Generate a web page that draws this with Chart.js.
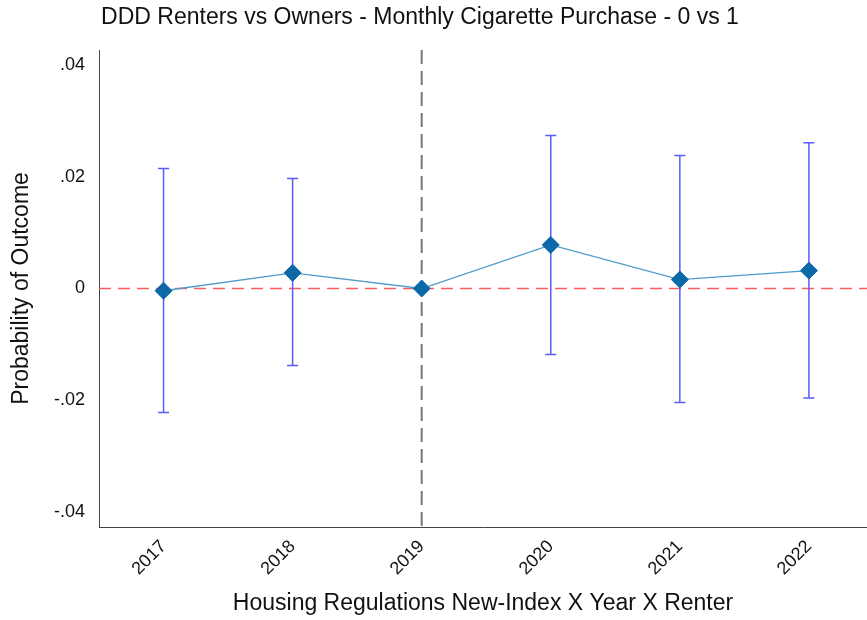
<!DOCTYPE html>
<html>
<head>
<meta charset="utf-8">
<script src="https://cdn.jsdelivr.net/npm/chart.js@4"></script>
<style>
  html, body { margin: 0; padding: 0; background: #fff; }
  #wrap { width: 867px; height: 620px; }
</style>
</head>
<body>
<div id="wrap"><canvas id="chart"></canvas></div>
<script>
const years = [2017, 2018, 2019, 2020, 2021, 2022];
const estimates = [-0.0004, 0.0028, 0.0, 0.0078, 0.0016, 0.0032];
const ciLow = [-0.0222, -0.0138, null, -0.0118, -0.0204, -0.0196];
const ciHigh = [0.0215, 0.0197, null, 0.0274, 0.0238, 0.0261];
const yTicks = [-0.04, -0.02, 0, 0.02, 0.04];
const refYear = 2019;
const titleText = 'DDD Renters vs Owners - Monthly Cigarette Purchase - 0 vs 1';

const FONT = '"Liberation Sans", Arial, Helvetica, sans-serif';

// format .04 / -.02 like Stata does
function stataFmt(v) {
    if (Math.abs(v) < 1e-9) return '0';
    return v.toFixed(2).replace('0.', '.');
}

// dashed reference lines + confidence intervals, drawn under the line/points
const errorBars = {
    id: 'errorBars',
    beforeDatasetsDraw(chart) {
        const { ctx, chartArea, scales: { x, y } } = chart;
        ctx.save();

        // horizontal zero line
        const y0 = y.getPixelForValue(0);
        ctx.strokeStyle = '#ff5b5b';
        ctx.lineWidth = 1.5;
        ctx.setLineDash([12, 7]);
        ctx.beginPath();
        ctx.moveTo(chartArea.left, y0);
        ctx.lineTo(chartArea.right, y0);
        ctx.stroke();

        // vertical policy year line
        const xr = x.getPixelForValue(refYear);
        ctx.strokeStyle = '#777';
        ctx.lineWidth = 2;
        ctx.setLineDash([14, 7]);
        ctx.beginPath();
        ctx.moveTo(xr, chartArea.top);
        ctx.lineTo(xr, chartArea.bottom);
        ctx.stroke();

        // CI bars
        ctx.setLineDash([]);
        ctx.strokeStyle = '#5a5aff';
        ctx.lineWidth = 1.5;
        years.forEach((yr, i) => {
            if (ciLow[i] === null) return;
            const px = x.getPixelForValue(yr);
            const top = y.getPixelForValue(ciHigh[i]);
            const bot = y.getPixelForValue(ciLow[i]);
            ctx.beginPath();
            ctx.moveTo(px, top);
            ctx.lineTo(px, bot);
            ctx.moveTo(px - 5.5, top);
            ctx.lineTo(px + 5.5, top);
            ctx.moveTo(px - 5.5, bot);
            ctx.lineTo(px + 5.5, bot);
            ctx.stroke();
        });
        ctx.restore();
    }
};

const titlePlugin = {
    id: 'titleText',
    afterDraw(chart) {
        const ctx = chart.ctx;
        ctx.save();
        ctx.fillStyle = '#111';
        ctx.font = '23px ' + FONT;
        ctx.textAlign = 'center';
        ctx.textBaseline = 'middle';
        ctx.fillText(titleText, 420, 18);
        ctx.restore();
    }
};

const ctx = document.getElementById('chart').getContext('2d');
new Chart(ctx, {
    type: 'line',
    data: {
        datasets: [{
            data: years.map((yr, i) => ({ x: yr, y: estimates[i] })),
            borderColor: '#4f9bcb',
            borderWidth: 1.3,
            pointStyle: 'rectRot',
            pointRadius: 8.5,
            pointHoverRadius: 8.5,
            pointBackgroundColor: '#0a69a6',
            pointBorderColor: '#0a69a6',
            pointBorderWidth: 1,
            tension: 0
        }]
    },
    options: {
        responsive: true,
        maintainAspectRatio: false,
        animation: false,
        layout: { autoPadding: false, padding: { top: 50, right: 0, left: 0, bottom: 0 } },
        plugins: {
            legend: { display: false },
            tooltip: { enabled: false },
            title: { display: false }
        },
        scales: {
            x: {
                type: 'linear',
                min: 2016.5,
                max: 2022.45,
                afterBuildTicks: scale => { scale.ticks = years.map(v => ({ value: v })); },
                afterFit: scale => {
                    scale.height = 93;
                    scale.paddingLeft = 0;
                    scale.paddingRight = 0;
                },
                grid: { display: false, drawTicks: false },
                border: { display: true, color: '#444', width: 1 },
                ticks: {
                    minRotation: 45,
                    maxRotation: 45,
                    padding: 9,
                    color: '#111',
                    font: { family: FONT, size: 18 },
                    callback: v => String(v)
                },
                title: {
                    display: true,
                    text: 'Housing Regulations New-Index X Year X Renter',
                    color: '#111',
                    font: { family: FONT, size: 23 },
                    padding: { top: 4, bottom: 3 }
                }
            },
            y: {
                min: -0.0427,
                max: 0.0427,
                afterBuildTicks: scale => { scale.ticks = yTicks.map(v => ({ value: v })); },
                afterFit: scale => { scale.width = 99; },
                grid: { display: false, drawTicks: false },
                border: { display: true, color: '#444', width: 1 },
                ticks: {
                    padding: 14,
                    color: '#111',
                    font: { family: FONT, size: 18 },
                    callback: v => stataFmt(v)
                },
                title: {
                    display: true,
                    text: 'Probability of Outcome',
                    color: '#111',
                    font: { family: FONT, size: 23 },
                    padding: { top: 8, bottom: 0 }
                }
            }
        }
    },
    plugins: [errorBars, titlePlugin]
});
</script>
</body>
</html>
